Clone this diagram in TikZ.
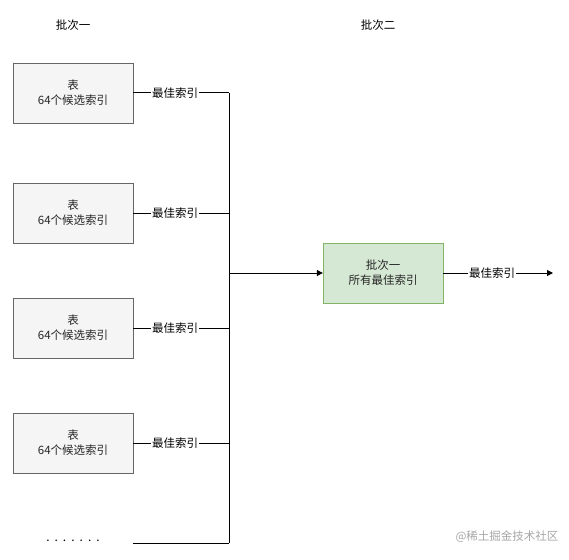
\documentclass[tikz,border=0pt]{standalone}
\usepackage{fontspec}
\setmainfont{Noto Sans CJK SC}
\usetikzlibrary{arrows.meta}
\definecolor{gfill}{HTML}{F5F5F5}
\definecolor{gdraw}{HTML}{666666}
\definecolor{tfill}{HTML}{D5E8D4}
\definecolor{tdraw}{HTML}{82B366}
\tikzset{
  tbl/.style={draw=gdraw, fill=gfill, minimum width=120pt, minimum height=60pt, inner sep=0pt, align=center, font=\fontsize{11.5}{15}\selectfont, text=black!85},
  res/.style={draw=tdraw, fill=tfill, minimum width=120pt, minimum height=60pt, inner sep=0pt, align=center, font=\fontsize{11.5}{15}\selectfont, text=black!85},
  lbl/.style={fill=white, inner sep=1pt, font=\fontsize{11.5}{13}\selectfont},
  conn/.style={line width=1pt},
  ttl/.style={font=\fontsize{11.5}{13}\selectfont},
}
\begin{document}
\begin{tikzpicture}[x=1pt,y=-1pt]
\useasboundingbox (0,0) rectangle (569,559);
\node[ttl] (t1) at (73,25) {批次一};
\node[ttl] (t2) at (378,25) {批次二};
\node[tbl] (a1) at (73,93) {表\\64个候选索引};
\node[tbl] (a2) at (73,213) {表\\64个候选索引};
\node[tbl] (a3) at (73,328) {表\\64个候选索引};
\node[tbl] (a4) at (73,443) {表\\64个候选索引};
\node[font=\fontsize{12}{12}\selectfont, inner sep=0pt] (dots) at (73,541) {.\hspace{5pt}.\hspace{5pt}.\hspace{5pt}.\hspace{5pt}.\hspace{5pt}.\hspace{5pt}.};
\coordinate (j1) at (229,93);
\coordinate (j2) at (229,213);
\coordinate (j3) at (229,328);
\coordinate (j4) at (229,443);
\coordinate (j5) at (229,543);
\coordinate (d5) at (133,543);
\coordinate (jm) at (229,273);
\node[res] (b) at (383,273) {批次一\\所有最佳索引};
\coordinate (out) at (553,273);
\draw[conn] (a1.east) -- (j1);
\draw[conn] (a2.east) -- (j2);
\draw[conn] (a3.east) -- (j3);
\draw[conn] (a4.east) -- (j4);
\draw[conn] (d5) -- (j5);
\draw[conn] (j1) -- (j5);
\node[lbl] (l1) at (175,93) {最佳索引};
\node[lbl] (l2) at (175,213) {最佳索引};
\node[lbl] (l3) at (175,328) {最佳索引};
\node[lbl] (l4) at (175,443) {最佳索引};
\draw[conn, -{Triangle[length=6pt,width=6pt]}] (jm) -- (b.west);
\draw[conn, -{Triangle[length=6pt,width=6pt]}] (b.east) -- (out);
\node[lbl] (l5) at (492,273) {最佳索引};
\node[font=\fontsize{11.5}{13}\selectfont, text=black!35, anchor=east] (wm) at (562,537) {@稀土掘金技术社区};
\end{tikzpicture}
\end{document}
